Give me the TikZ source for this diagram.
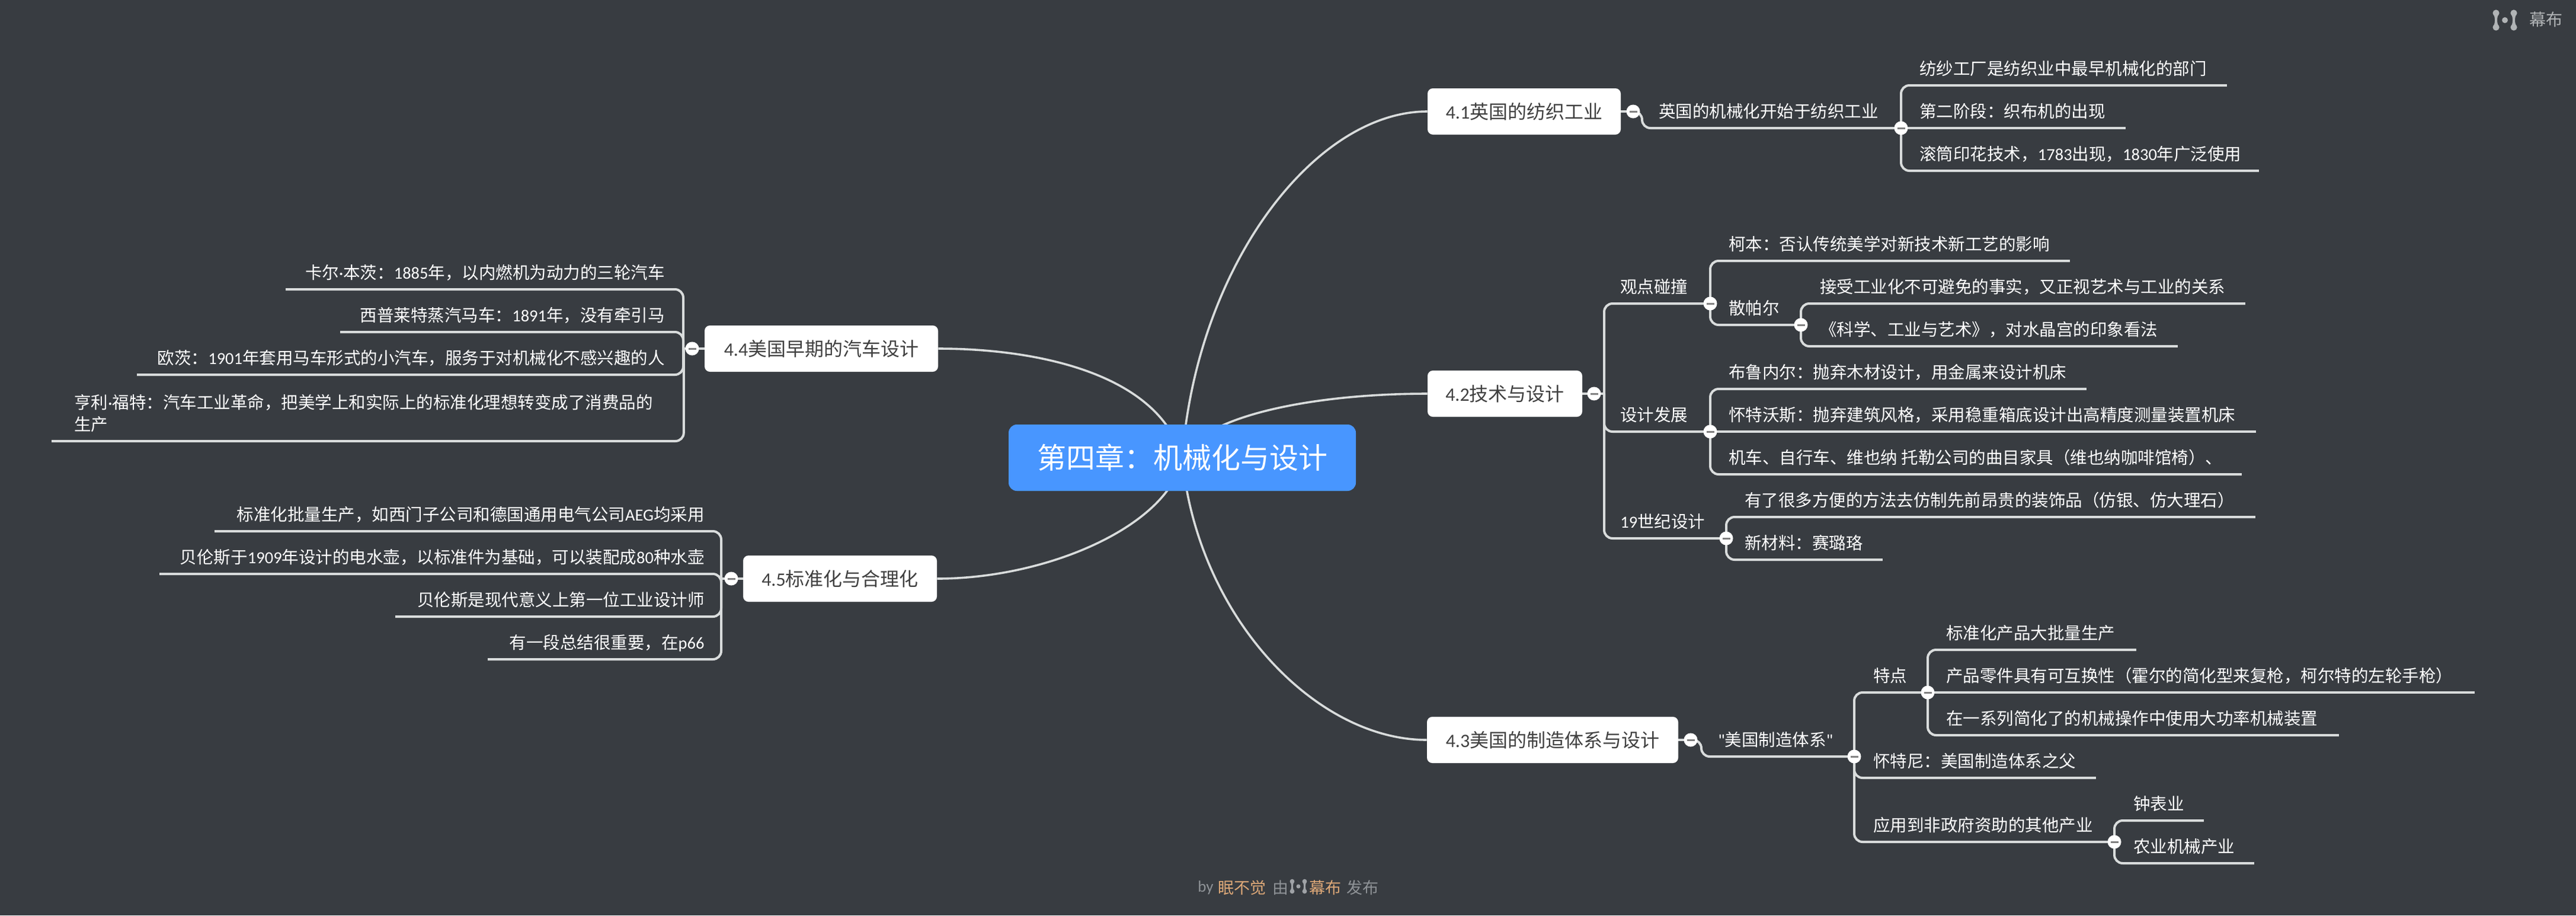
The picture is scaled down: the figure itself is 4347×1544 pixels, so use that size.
\documentclass[tikz,border=0pt]{standalone}
\usepackage{fontspec}
\setmainfont{Noto Sans CJK SC}
\newfontfamily\lat{Carlito}
\newcommand\cc{\char"FF1A\relax}
\newcommand\cm{\char"FF0C\relax}
\newcommand\lp{\char"FF08\relax}
\newcommand\rp{\char"FF09\relax}
\newcommand\la[1]{{\lat #1}}
\usetikzlibrary{backgrounds}
\definecolor{bgc}{HTML}{383C41}
\definecolor{linec}{HTML}{D9DCDC}
\definecolor{rootc}{HTML}{4896FF}
\definecolor{topict}{HTML}{404040}
\definecolor{footg}{HTML}{8E9296}
\definecolor{footo}{HTML}{DDA878}
\definecolor{logoc}{HTML}{B0B3B5}
\tikzset{
  leaf/.style={inner sep=0pt,text=white,font=\fontsize{14.25}{18.5}\selectfont,text height=12.5pt,text depth=8.6pt},
  topic/.style={fill=white,rounded corners=4.5pt,inner sep=0pt,text=topict,font=\fontsize{16}{20}\selectfont,minimum height=39pt},
  rootnode/.style={fill=rootc,rounded corners=7pt,inner sep=0pt,text=white,font=\fontsize{24.5}{30}\selectfont,minimum width=293pt,minimum height=56pt},
  junction/.style={circle,fill=white,inner sep=0pt,minimum size=11.5pt,text=gray},
  conn/.style={draw=linec,line width=2pt,rounded corners=7pt},
  curve/.style={draw=linec,line width=1.8pt},
  footer/.style={inner sep=0pt,anchor=west,font=\fontsize{13.5}{16}\selectfont},
}
\newcommand\leafL[6][15.5pt]{\node[leaf,anchor=south west] (#2) at (#3,#5) {\makebox[\dimexpr(#4pt-#3pt)/2\relax][l]{\kern#1\relax #6}};}
\newcommand\leafR[6][15.5pt]{\node[leaf,anchor=south east] (#2) at (#4,#5) {\makebox[\dimexpr(#4pt-#3pt)/2\relax][r]{#6\kern#1\relax}};}
\newcommand\jn[3]{\node[junction] (#1) at (#2,#3) {\rule{6.5pt}{1.5pt}};}
\newcommand\logomark[4]{\begin{scope}[shift={(#1,#2)},scale=#3]
  \fill[#4] (-20,-12) .. controls (-16,-5) and (-16,5) .. (-20,12) arc[start angle=180,delta angle=180,radius=5] .. controls (-14,5) and (-14,-5) .. (-10,-12) arc[start angle=0,delta angle=180,radius=5] -- cycle;
  \fill[#4] (10,-12) .. controls (14,-5) and (14,5) .. (10,12) arc[start angle=180,delta angle=180,radius=5] .. controls (16,5) and (16,-5) .. (20,-12) arc[start angle=0,delta angle=180,radius=5] -- cycle;
  \fill[#4] (-15,-12) circle[radius=5.6] (-15,12) circle[radius=5.6] (15,-12) circle[radius=5.6] (15,12) circle[radius=5.6] (0,0) circle[radius=5];
\end{scope}}
\begin{document}
\begin{tikzpicture}[x=0.5pt,y=-0.5pt]
\begin{scope}[on background layer]
\fill[bgc] (0,0) rectangle (4347,1544);
\end{scope}
\useasboundingbox (0,0) rectangle (4347,1544);
% root and topics
\node[rootnode] (root) at (1995,772) {第四章\cc 机械化与设计};
\node[topic,minimum width=163pt] (t1) at (2572,188) {\la{4.1}英国的纺织工业};
\node[topic,minimum width=130.5pt] (t2) at (2539.5,664) {\la{4.2}技术与设计};
\node[topic,minimum width=212pt] (t3) at (2620,1248) {\la{4.3}美国的制造体系与设计};
\node[topic,minimum width=197pt] (t4) at (1386,588) {\la{4.4}美国早期的汽车设计};
\node[topic,minimum width=163.5pt] (t5) at (1417.5,976) {\la{4.5}标准化与合理化};
% 4.1
\jn{j1}{2756}{188}
\leafL[14pt]{n1}{2771}{3208}{216}{英国的机械化开始于纺织工业}
\jn{j11}{3208}{216}
\leafL{n11}{3208}{3757}{144}{纺纱工厂是纺织业中最早机械化的部门}
\leafL{n12}{3208}{3586}{216}{第二阶段\cc 织布机的出现}
\leafL{n13}{3208}{3811}{288}{滚筒印花技术\cm\la{1783}出现\cm\la{1830}年广泛使用}
% 4.2
\jn{j2}{2690}{664}
\leafL[13.5pt]{n21}{2707}{2886}{512}{观点碰撞}
\jn{j21}{2886}{512}
\leafL{n211}{2886}{3492}{440}{柯本\cc 否认传统美学对新技术新工艺的影响}
\leafL{n212}{2886}{3039}{548}{散帕尔}
\jn{j212}{3039}{548}
\leafL[16pt]{n2121}{3039}{3788}{512}{接受工业化不可避免的事实\cm 又正视艺术与工业的关系}
\leafL[16pt]{n2122}{3039}{3674}{584}{《科学、工业与艺术》\cm 对水晶宫的印象看法}
\leafL[13.5pt]{n22}{2707}{2886}{728}{设计发展}
\jn{j22}{2886}{728}
\leafL{n221}{2886}{3520}{656}{布鲁内尔\cc 抛弃木材设计\cm 用金属来设计机床}
\leafL{n222}{2886}{3806}{728}{怀特沃斯\cc 抛弃建筑风格\cm 采用稳重箱底设计出高精度测量装置机床}
\leafL{n223}{2886}{3782}{800}{机车、自行车、维也纳\la{ }托勒公司的曲目家具\lp 维也纳咖啡馆椅\rp 、}
\leafL[13.5pt]{n23}{2707}{2913}{908}{\la{19}世纪设计}
\jn{j23}{2913}{908}
\leafL{n231}{2913}{3805}{872}{有了很多方便的方法去仿制先前昂贵的装饰品\lp 仿银、仿大理石\rp}
\leafL{n232}{2913}{3176}{944}{新材料\cc 赛璐珞}
% 4.3
\jn{j3}{2853}{1248}
\leafL[14pt]{n3}{2871}{3129}{1276}{\la{"}美国制造体系\la{"}}
\jn{j31}{3129}{1276}
\leafL[16pt]{n311}{3129}{3253}{1168}{特点}
\jn{j311}{3253}{1168}
\leafL{n3111}{3253}{3604}{1096}{标准化产品大批量生产}
\leafL{n3112}{3253}{4175}{1168}{产品零件具有可互换性\lp 霍尔的简化型来复枪\cm 柯尔特的左轮手枪\rp}
\leafL{n3113}{3253}{3946}{1240}{在一系列简化了的机械操作中使用大功率机械装置}
\leafL[16pt]{n312}{3129}{3536}{1312}{怀特尼\cc 美国制造体系之父}
\leafL[16pt]{n313}{3129}{3568}{1420}{应用到非政府资助的其他产业}
\jn{j313}{3568}{1420}
\leafL[16pt]{n3131}{3568}{3718}{1384}{钟表业}
\leafL[16pt]{n3132}{3568}{3803}{1456}{农业机械产业}
% 4.4
\jn{j4}{1168}{588}
\leafR{n41}{483}{1153}{488}{卡尔\la{·}本茨\cc\la{1885}年\cm 以内燃机为动力的三轮汽车}
\leafR{n42}{575}{1153}{560}{西普莱特蒸汽马车\cc\la{1891}年\cm 没有牵引马}
\leafR{n43}{232}{1153}{632}{欧茨\cc\la{1901}年套用马车形式的小汽车\cm 服务于对机械化不感兴趣的人}
\node[leaf,anchor=south west,text height=31pt] (n44) at (87,744) {\makebox[533pt][l]{\kern19pt\vbox{\hbox{亨利\la{·}福特\cc 汽车工业革命\cm 把美学上和实际上的标准化理想转变成了消费品的}\hbox{生产}}}};
% 4.5
\jn{j5}{1234}{976}
\leafR[14pt]{n51}{363}{1217}{896}{标准化批量生产\cm 如西门子公司和德国通用电气公司\la{AEG}均采用}
\leafR[14pt]{n52}{270}{1217}{968}{贝伦斯于\la{1909}年设计的电水壶\cm 以标准件为基础\cm 可以装配成\la{80}种水壶}
\leafR[14pt]{n53}{668}{1217}{1040}{贝伦斯是现代意义上第一位工业设计师}
\leafR[14pt]{n54}{824}{1217}{1112}{有一段总结很重要\cm 在\la{p66}}
% connectors
\begin{scope}[on background layer]
\draw[curve] (root.center) .. controls (2020,445) and (2220,188) .. (t1.west);
\draw[curve] (root.center) .. controls (2030,700) and (2220,664) .. (t2.west);
\draw[curve] (root.center) .. controls (2020,1040) and (2220,1248) .. (t3.west);
\draw[curve] (root.center) .. controls (1955,630) and (1750,588) .. (t4.east);
\draw[curve] (root.center) .. controls (1975,885) and (1770,976) .. (t5.east);
\draw[conn] (t1.east) -- (j1.center);
\draw[conn] (j1.center) -| (n1.south west) -- (n1.south east);
\draw[conn] (j11.center) |- (n11.south east);
\draw[conn] (j11.center) -- (n12.south east);
\draw[conn] (j11.center) |- (n13.south east);
\draw[conn] (t2.east) -- (j2.center);
\draw[conn] (j2.center) -- (n21.south west |- j2.center);
\draw[conn] (n21.south east) -| (n21.south west |- j2.center);
\draw[conn] (n22.south east) -| (n22.south west |- j2.center);
\draw[conn] (n23.south east) -| (n23.south west |- j2.center);
\draw[conn] (j21.center) |- (n211.south east);
\draw[conn] (j21.center) |- (n212.south east);
\draw[conn] (j212.center) |- (n2121.south east);
\draw[conn] (j212.center) |- (n2122.south east);
\draw[conn] (j22.center) |- (n221.south east);
\draw[conn] (j22.center) -- (n222.south east);
\draw[conn] (j22.center) |- (n223.south east);
\draw[conn] (j23.center) |- (n231.south east);
\draw[conn] (j23.center) |- (n232.south east);
\draw[conn] (t3.east) -- (j3.center);
\draw[conn] (j3.center) -| (n3.south west) -- (n3.south east);
\draw[conn] (j31.center) |- (n311.south east);
\draw[conn] (j31.center) |- (n312.south east);
\draw[conn] (j31.center) |- (n313.south east);
\draw[conn] (j311.center) |- (n3111.south east);
\draw[conn] (j311.center) -- (n3112.south east);
\draw[conn] (j311.center) |- (n3113.south east);
\draw[conn] (j313.center) |- (n3131.south east);
\draw[conn] (j313.center) |- (n3132.south east);
\draw[conn] (t4.west) -- (j4.center);
\draw[conn] (j4.center) -- (n41.south east |- j4.center);
\draw[conn] (n41.south west) -| (n41.south east |- j4.center);
\draw[conn] (n42.south west) -| (n42.south east |- j4.center);
\draw[conn] (n43.south west) -| (n43.south east |- j4.center);
\draw[conn] (n44.south west) -| (n44.south east |- j4.center);
\draw[conn] (t5.west) -- (j5.center);
\draw[conn] (j5.center) -- (n51.south east |- j5.center);
\draw[conn] (n51.south west) -| (n51.south east |- j5.center);
\draw[conn] (n52.south west) -| (n52.south east |- j5.center);
\draw[conn] (n53.south west) -| (n53.south east |- j5.center);
\draw[conn] (n54.south west) -| (n54.south east |- j5.center);
\end{scope}
% top-right logo
\logomark{4227}{34}{1}{logoc}
\node[inner sep=0pt,anchor=west,text=logoc,font=\fontsize{14}{16}\selectfont] (brand) at (4268,33) {幕布};
% footer
\node[footer,text=footg] (fa) at (2021,1497) {\la{by}};
\node[footer,text=footo] (fb) at (2055,1497) {眠不觉};
\node[footer,text=footg] (fc) at (2147,1497) {由};
\logomark{2191}{1495}{0.7}{footg!85!white}
\node[footer,text=footo] (fd) at (2209,1497) {幕布};
\node[footer,text=footg] (fe) at (2272,1497) {发布};
\end{tikzpicture}
\end{document}
